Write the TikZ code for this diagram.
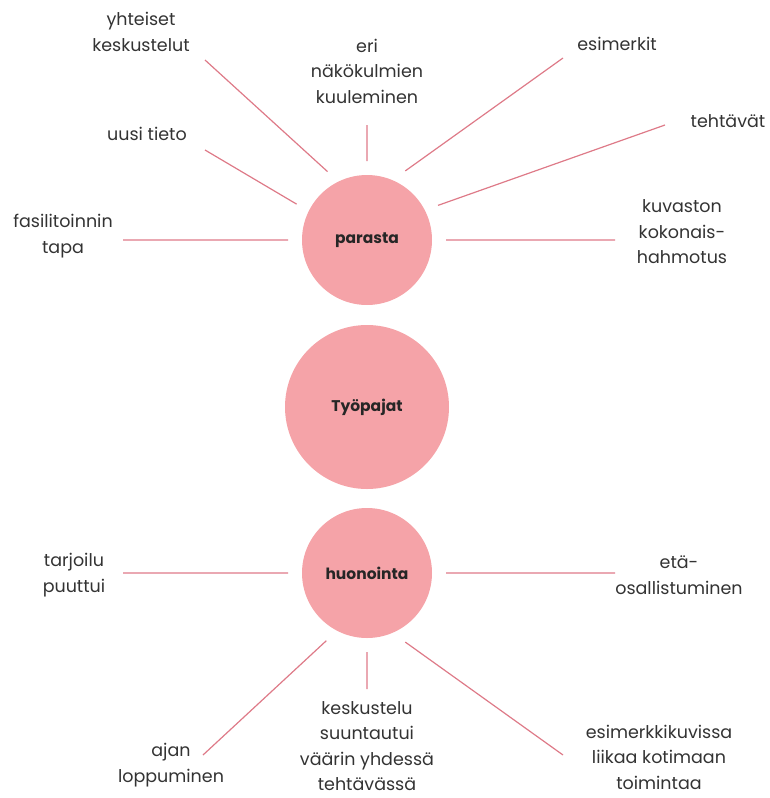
\documentclass[tikz,border=0pt]{standalone}
\usepackage{fontspec}
\setmainfont{Poppins}
\usetikzlibrary{positioning}

\definecolor{hubpink}{HTML}{F5A3A8}
\definecolor{spokepink}{HTML}{DE7A88}
\definecolor{labelgray}{HTML}{333333}

\begin{document}
\begin{tikzpicture}[x=1pt,y=-1pt,
    hub/.style={circle,fill=hubpink,minimum size=130pt,inner sep=0pt,outer sep=14pt,
                text=black!85,font=\bfseries\fontsize{15.5}{18}\selectfont},
    core/.style={hub,minimum size=164pt,outer sep=0pt},
    topic/.style={align=center,text=labelgray,inner sep=0pt,font=\fontsize{17.5}{25.5}\selectfont},
    spoke/.style={draw=spokepink,line width=1.2pt}]
      \useasboundingbox (0,0) rectangle (770,798);

      % the three circles
      \node[hub]  (parasta)   at (367,240) {parasta};
      \node[core] (tyopajat)  at (367,407) {Työpajat};
      \node[hub]  (huonointa) at (367,573) {huonointa};

      % parasta
      \node[topic] (yhteiset)  at (141,32)  {yhteiset\\keskustelut};
      \node[topic] (eri)       at (367,71)  {eri\\näkökulmien\\kuuleminen};
      \node[topic] (esim)      at (617,44)  {esimerkit};
      \node[topic] (tehtavat)  at (728,121) {tehtävät};
      \node[topic] (kuvasto)   at (682,232) {kuvaston\\kokonais-\\hahmotus};
      \node[topic] (uusi)      at (147,134) {uusi tieto};
      \node[topic] (fasil)     at (63,236)  {fasilitoinnin\\tapa};

      % huonointa
      \node[topic] (tarjoilu)  at (74,575)  {tarjoilu\\puuttui};
      \node[topic] (eta)       at (679,575) {etä-\\osallistuminen};
      \node[topic] (ajan)      at (171,765) {ajan\\loppuminen};
      \node[topic] (keskust)   at (367,746) {keskustelu\\suuntautui\\väärin yhdessä\\tehtävässä};
      \node[topic] (kotimaa)   at (659,757) {esimerkkikuvissa\\liikaa kotimaan\\toimintaa};

      % free ends of the spokes
      \coordinate (yhteiset-e) at (205,60);
      \coordinate (eri-e)      at (367,125);
      \coordinate (esim-e)     at (563,58);
      \coordinate (tehtavat-e) at (665,125);
      \coordinate (kuvasto-e)  at (615,240);
      \coordinate (uusi-e)     at (205,150);
      \coordinate (fasil-e)    at (123,240);
      \coordinate (tarjoilu-e) at (123,573);
      \coordinate (eta-e)      at (615,573);
      \coordinate (ajan-e)     at (203,755);
      \coordinate (keskust-e)  at (367,689);
      \coordinate (kotimaa-e)  at (563,755);

      \path[spoke] (parasta.120)   -- (yhteiset-e)
                   (parasta.90)    -- (eri-e)
                   (parasta.61)    -- (esim-e)
                   (parasta.26)    -- (tehtavat-e)
                   (parasta.0)     -- (kuvasto-e)
                   (parasta.153)   -- (uusi-e)
                   (parasta.180)   -- (fasil-e);

      \path[spoke] (huonointa.180) -- (tarjoilu-e)
                   (huonointa.0)   -- (eta-e)
                   (huonointa.239) -- (ajan-e)
                   (huonointa.270) -- (keskust-e)
                   (huonointa.299) -- (kotimaa-e);
\end{tikzpicture}
\end{document}
